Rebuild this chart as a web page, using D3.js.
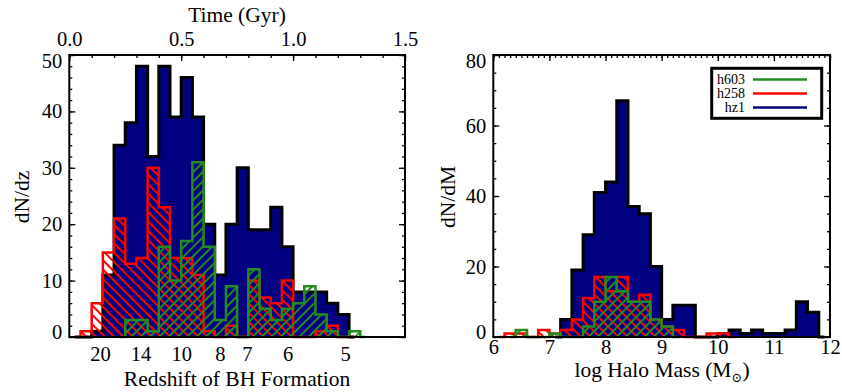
<!DOCTYPE html>
<html>
<head>
<meta charset="utf-8">
<title>BH formation histograms</title>
<script src="https://cdnjs.cloudflare.com/ajax/libs/d3/7.8.5/d3.min.js"></script>
<style>
  body { margin: 0; background: #fff; }
  svg text { font-family: "Liberation Serif", "DejaVu Serif", serif; fill: #000; }
</style>
</head>
<body>
<div id="chart"></div>
<script>
// ---- data (counts per bin, null = bin not drawn for that run) ----
var timeBins = [0.00, 0.05, 0.10, 0.15, 0.20, 0.25, 0.30, 0.35, 0.40, 0.45, 0.50, 0.55, 0.60, 0.65,
                0.70, 0.75, 0.80, 0.85, 0.90, 0.95, 1.00, 1.05, 1.10, 1.15, 1.20, 1.25, 1.30];
var hz1Time  = [0, 0, 1, 11, 34, 38, 48, 32, 48, 39, 46, 39, 20, 11, 20, 30, 19, 19, 23, 16, 8, 8, 8, 6, 4, 0, null];
var h258Time = [0, 1, 6, 15, 21, 13, 14, 30, 23, 14, 14, 11, 1, 0, 2, 0, 10, 7, 6, 10, 0, 0, 1, 2, 0, 0, null];
var h603Time = [null, null, null, null, 0, 3, 3, 1, 16, 10, 17, 31, 16, 3, 9, 0, 12, 5, 3, 5, 6, 9, 4, 1, 0, 1, 0];

var massBins = [6.0, 6.2, 6.4, 6.6, 6.8, 7.0, 7.2, 7.4, 7.6, 7.8, 8.0, 8.2, 8.4, 8.6, 8.8,
                9.0, 9.2, 9.4, 9.6, 9.8, 10.0, 10.2, 10.4, 10.6, 10.8, 11.0, 11.2, 11.4, 11.6, 11.8];
var hz1Mass  = [null, null, null, null, null, 0, 5, 19, 29, 41, 44, 67, 37, 35, 20,
                5, 9, 9, 0, 0, 1, 2, 1, 2, 1, 1, 2, 10, 7, 0];
var h258Mass = [0, 1, 1, 0, 2, 1, 2, 5, 11, 17, 13, 17, 10, 12, 5,
                3, 2, 0, 0, 1, 1, 0, null, null, null, null, null, null, null, null];
var h603Mass = [null, 0, 2, 0, 0, 1, 0, 0, 3, 10, 17, 13, 10, 10, 5,
                3, 0, null, null, null, null, null, null, null, null, null, null, null, null, null];

var timeTicks = [0, 0.5, 1.0, 1.5];
var redshiftLabels = [20, 14, 10, 8, 7, 6, 5];
var redshiftTimes  = [0.137, 0.318, 0.50, 0.673, 0.793, 0.976, 1.232];
var massTicks = [6, 7, 8, 9, 10, 11, 12];

var legendNames  = ["h603", "h258", "hz1"];
var legendColors = ["#228b22", "#ff0000", "#000080"];

// ---- layout ----
var W = 842, H = 392;
var plotTop = 55, plotBottom = 337;
var svg = d3.select("#chart").append("svg").attr("width", W).attr("height", H);

var defs = svg.append("defs");
function hatch(id, color, angle) {
  var p = defs.append("pattern").attr("id", id).attr("patternUnits", "userSpaceOnUse")
    .attr("width", 6.6).attr("height", 6.6).attr("patternTransform", "rotate(" + angle + ")");
  p.append("line").attr("x1", 1).attr("y1", 0).attr("x2", 1).attr("y2", 6.6)
    .attr("stroke", color).attr("stroke-width", 2);
}
hatch("hatchRed", "#ff0000", -45);
hatch("hatchGreen", "#228b22", 45);

// IDL psym=10 style steps: from first bin centre to last bin centre
function stepPoints(bins, counts) {
  var w = bins[1] - bins[0];
  var idx = [];
  counts.forEach(function(c, i) { if (c !== null) idx.push(i); });
  var a = idx[0], b = idx[idx.length - 1];
  var pts = [[bins[a] + w / 2, counts[a]]];
  for (var i = a + 1; i <= b; i++) {
    pts.push([bins[i], counts[i - 1]]);
    pts.push([bins[i], counts[i]]);
  }
  pts.push([bins[b] + w / 2, counts[b]]);
  return pts;
}

function drawHist(g, x, y, bins, counts, fill, stroke, sw) {
  var pts = stepPoints(bins, counts);
  var area = d3.area().x(function(d) { return x(d[0]); }).y0(y(0)).y1(function(d) { return y(d[1]); });
  var line = d3.line().x(function(d) { return x(d[0]); }).y(function(d) { return y(d[1]); });
  g.append("path").attr("d", area(pts)).attr("fill", fill).attr("stroke", "none");
  g.append("path").attr("d", line(pts)).attr("fill", "none").attr("stroke", stroke)
    .attr("stroke-width", sw).attr("stroke-linejoin", "miter");
}

function styleAxis(g, size) {
  g.select(".domain").remove();
  g.selectAll(".tick line").attr("stroke", "#000").attr("stroke-width", 1.3);
  g.selectAll("text").attr("font-family", "Liberation Serif, DejaVu Serif, serif")
    .attr("font-size", size || 20.5).attr("fill", "#000");
}

function yAxes(g, y, x0, x1, major, minor) {
  var a = g.append("g").attr("transform", "translate(" + x0 + ",0)")
    .call(d3.axisLeft(y).tickValues(major).tickSize(-6).tickPadding(7).tickFormat(d3.format("d")));
  styleAxis(a);
  a.selectAll("text").attr("dy", function(d) {
    if (d === y.domain()[1]) return "0.62em";
    if (d === 0) return "0.06em";
    return "0.32em";
  });
  styleAxis(g.append("g").attr("transform", "translate(" + x0 + ",0)")
    .call(d3.axisLeft(y).tickValues(minor).tickSize(-3).tickFormat("")));
  styleAxis(g.append("g").attr("transform", "translate(" + x1 + ",0)")
    .call(d3.axisRight(y).tickValues(major).tickSize(-6).tickFormat("")));
  styleAxis(g.append("g").attr("transform", "translate(" + x1 + ",0)")
    .call(d3.axisRight(y).tickValues(minor).tickSize(-3).tickFormat("")));
}

// ---- left panel: formation time / redshift ----
var xT = d3.scaleLinear().domain([0, 1.5]).range([69.3, 405]);
var yT = d3.scaleLinear().domain([0, 50]).range([plotBottom, plotTop]);
var leftPanel = svg.append("g");

drawHist(leftPanel, xT, yT, timeBins, hz1Time, "#000080", "#000", 3);
drawHist(leftPanel, xT, yT, timeBins, h258Time, "url(#hatchRed)", "#ff0000", 2.5);
drawHist(leftPanel, xT, yT, timeBins, h603Time, "url(#hatchGreen)", "#228b22", 2.5);

leftPanel.append("rect").attr("x", xT(0)).attr("y", plotTop).attr("width", xT(1.5) - xT(0))
  .attr("height", plotBottom - plotTop).attr("fill", "none").attr("stroke", "#000").attr("stroke-width", 2);

yAxes(leftPanel, yT, xT(0), xT(1.5), d3.range(0, 51, 10), d3.range(0, 51, 2));

var topAx = leftPanel.append("g").attr("transform", "translate(0," + plotTop + ")")
  .call(d3.axisTop(xT).tickValues(timeTicks).tickSize(-6).tickPadding(9).tickFormat(d3.format(".1f")));
styleAxis(topAx);
styleAxis(leftPanel.append("g").attr("transform", "translate(0," + plotTop + ")")
  .call(d3.axisTop(xT).tickValues(d3.range(0, 1.51, 0.1)).tickSize(-3).tickFormat("")));

var zAx = leftPanel.append("g").attr("transform", "translate(0," + plotBottom + ")")
  .call(d3.axisBottom(xT).tickValues(redshiftTimes).tickSize(0).tickPadding(9)
    .tickFormat(function(d, i) { return redshiftLabels[i]; }));
styleAxis(zAx);

leftPanel.append("text").attr("x", 237).attr("y", 22).attr("text-anchor", "middle")
  .attr("font-size", 21.5).text("Time (Gyr)");
leftPanel.append("text").attr("x", 237).attr("y", 386).attr("text-anchor", "middle")
  .attr("font-size", 21.5).text("Redshift of BH Formation");
leftPanel.append("text").attr("transform", "translate(29,197) rotate(-90)").attr("text-anchor", "middle")
  .attr("font-size", 21.5).text("dN/dz");

// ---- right panel: halo mass ----
var xM = d3.scaleLinear().domain([6, 12]).range([493.3, 830]);
var yM = d3.scaleLinear().domain([0, 80]).range([plotBottom, plotTop]);
var rightPanel = svg.append("g");

drawHist(rightPanel, xM, yM, massBins, hz1Mass, "#000080", "#000", 3);
drawHist(rightPanel, xM, yM, massBins, h258Mass, "url(#hatchRed)", "#ff0000", 2.5);
drawHist(rightPanel, xM, yM, massBins, h603Mass, "url(#hatchGreen)", "#228b22", 2.5);

rightPanel.append("rect").attr("x", xM(6)).attr("y", plotTop).attr("width", xM(12) - xM(6))
  .attr("height", plotBottom - plotTop).attr("fill", "none").attr("stroke", "#000").attr("stroke-width", 2);

yAxes(rightPanel, yM, xM(6), xM(12), d3.range(0, 81, 20), d3.range(0, 81, 5));

styleAxis(rightPanel.append("g").attr("transform", "translate(0," + plotTop + ")")
  .call(d3.axisTop(xM).tickValues(massTicks).tickSize(-6).tickFormat("")));
styleAxis(rightPanel.append("g").attr("transform", "translate(0," + plotTop + ")")
  .call(d3.axisTop(xM).tickValues(d3.range(6, 12.01, 0.1)).tickSize(-3).tickFormat("")));

var mAx = rightPanel.append("g").attr("transform", "translate(0," + plotBottom + ")")
  .call(d3.axisBottom(xM).tickValues(massTicks).tickSize(0).tickPadding(2).tickFormat(d3.format("d")));
styleAxis(mAx);

var mLabel = rightPanel.append("text").attr("x", 662).attr("y", 377).attr("text-anchor", "middle")
  .attr("font-size", 21.5);
mLabel.append("tspan").text("log Halo Mass (M");
mLabel.append("tspan").attr("font-size", 13).attr("dy", 5).text("\u2299");
mLabel.append("tspan").attr("dy", -5).text(")");

rightPanel.append("text").attr("transform", "translate(455,197) rotate(-90)").attr("text-anchor", "middle")
  .attr("font-size", 21.5).text("dN/dM");

// legend
var leg = rightPanel.append("g");
leg.append("rect").attr("x", 711.7).attr("y", 68.3).attr("width", 110).attr("height", 50)
  .attr("fill", "#fff").attr("stroke", "#000").attr("stroke-width", 3);
legendNames.forEach(function(name, i) {
  var yy = 79.5 + i * 14;
  leg.append("text").attr("x", 745).attr("y", yy + 4.5).attr("text-anchor", "end")
    .attr("font-size", 14).text(name);
  leg.append("line").attr("x1", 753).attr("x2", 807).attr("y1", yy).attr("y2", yy)
    .attr("stroke", legendColors[i]).attr("stroke-width", 2.5);
});
</script>
</body>
</html>
